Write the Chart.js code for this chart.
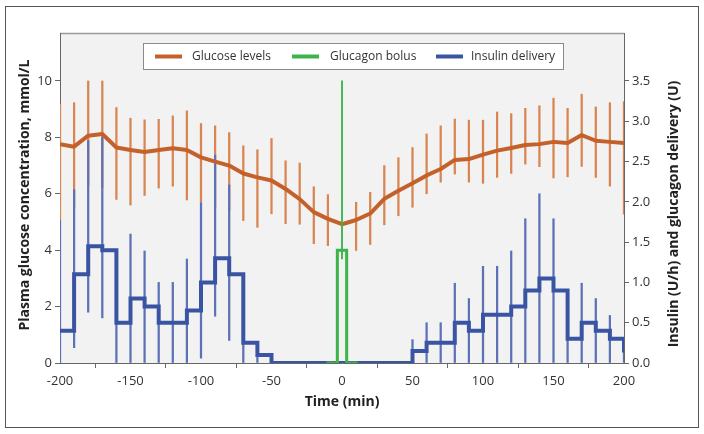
<!DOCTYPE html>
<html>
<head>
<meta charset="utf-8">
<script src="https://cdn.jsdelivr.net/npm/chart.js@4/dist/chart.umd.min.js"></script>
<style>
html,body{margin:0;padding:0;background:#fff;}
#wrap{width:704px;height:434px;position:relative;}
</style>
</head>
<body>
<div id="wrap"><canvas id="c" width="704" height="434"></canvas></div>
<script>
// ---- data ----
const times = [-200,-190,-180,-170,-160,-150,-140,-130,-120,-110,-100,-90,-80,-70,-60,-50,-40,-30,-20,-10,0,10,20,30,40,50,60,70,80,90,100,110,120,130,140,150,160,170,180,190,200];

// Plasma glucose, mmol/L (mean, upper and lower whisker)
const glucoseMean = [7.76,7.67,8.06,8.12,7.64,7.55,7.48,7.55,7.61,7.55,7.29,7.14,7.00,6.72,6.58,6.47,6.17,5.81,5.35,5.11,4.92,5.07,5.30,5.82,6.11,6.37,6.65,6.88,7.20,7.23,7.39,7.53,7.62,7.73,7.76,7.84,7.80,8.08,7.88,7.84,7.80];
const glucoseHigh = [9.17,9.23,10.0,10.0,9.06,8.68,8.62,8.64,8.76,8.94,8.49,8.41,8.17,7.70,7.56,7.96,7.17,7.09,6.25,5.97,null,5.70,6.05,7.00,7.28,7.64,8.12,8.41,8.65,8.61,8.61,8.90,8.84,9.03,9.12,9.39,9.03,9.53,9.08,9.23,9.27];
const glucoseLow  = [5.07,5.52,6.29,6.23,5.80,5.60,5.94,6.20,6.27,5.78,5.70,5.52,5.40,5.05,4.81,5.29,4.94,4.92,4.23,4.16,null,3.99,4.20,4.90,5.22,5.52,6.00,6.41,6.70,6.41,6.37,6.58,6.72,7.05,6.96,6.56,6.60,6.97,6.58,6.27,5.28];

// Insulin delivery, U/h (level of each 10-min step, with whiskers)
const insulinRate = [0.40,1.10,1.45,1.40,0.50,0.80,0.70,0.50,0.50,0.65,1.00,1.30,1.10,0.25,0.10,0,0,0,0,0,0,0,0,0,0,0.15,0.25,0.25,0.50,0.40,0.60,0.60,0.70,0.90,1.05,0.90,0.30,0.50,0.40,0.30,0.13];
const insulinHigh = [1.77,2.15,2.76,2.80,0.90,1.60,1.39,1.00,1.00,1.29,1.99,2.58,2.21,0.60,0.25,null,null,null,null,null,null,null,null,null,null,0.29,0.50,0.50,0.99,0.80,1.20,1.20,1.39,1.79,2.10,1.79,0.60,0.99,0.80,0.59,0.30];
const insulinLow  = [0,0.19,0.63,0.56,0,0,0,0,0,0,0.06,0.58,0.28,0,0,null,null,null,null,null,null,null,null,null,null,0,0,0,0,0,0,0,0,0,0,0,0,0,0,0,0];

// Glucagon bolus, U
const glucagonTimes = [-11,-3.3,3.3,11];
const glucagonDose  = [0,1.4,0,0];
const glucagonErrTime = [0];
const glucagonErrLow  = [1.29];
const glucagonErrHigh = [3.5];

// tick settings
const xTickStep = 50;
const leftTickStep = 2;
const leftTickMax = 10;
const rightTickStep = 0.5;
const rightTickMax = 3.5;

// ---- colours ----
const C_GLU = '#c4612a', C_GLU_ERR = '#d98552';
const C_INS = '#3a54a4', C_INS_ERR = '#5d72b6';
const C_GCG = '#3cb44a';
const FONT = '"Open Sans", "DejaVu Sans", sans-serif';

function pts(xs, ys){ return xs.map((x,i)=>({x:x, y:ys[i]})); }
function ranges(xs, lo, hi){
  const out=[];
  xs.forEach((x,i)=>{ if(lo[i]!=null && hi[i]!=null) out.push({x:x, y:[lo[i],hi[i]]}); });
  return out;
}

const decor = {
  id:'decor',
  beforeDraw(chart){
    const ctx=chart.ctx, a=chart.chartArea;
    ctx.save();
    ctx.fillStyle='#ffffff'; ctx.fillRect(0,0,chart.width,chart.height);
    ctx.strokeStyle='#555'; ctx.lineWidth=1;
    ctx.strokeRect(5.5,6.5,693,421);
    ctx.fillStyle='#f2f2f2'; ctx.fillRect(a.left,a.top,a.right-a.left,a.bottom-a.top);
    ctx.strokeStyle='#9a9a9a'; ctx.lineWidth=1.5;
    ctx.beginPath(); ctx.moveTo(a.left,a.top+0.5); ctx.lineTo(a.right,a.top+0.5); ctx.stroke();
    ctx.restore();
  },
  afterDraw(chart){
    const ctx=chart.ctx;
    ctx.save();
    // legend box
    ctx.fillStyle='#fff'; ctx.fillRect(143,43,420,26);
    ctx.strokeStyle='#8a8a8a'; ctx.lineWidth=1; ctx.strokeRect(143.5,43.5,420,26);
    const items=[[0,155,192],[4,292,330],[2,436,471]];
    ctx.font='12px '+FONT; ctx.textBaseline='middle'; ctx.textAlign='left';
    items.forEach(([di,lx,tx])=>{
      const ds=chart.data.datasets[di];
      ctx.strokeStyle=ds.borderColor; ctx.lineWidth=4;
      ctx.beginPath(); ctx.moveTo(lx,56.5); ctx.lineTo(lx+27,56.5); ctx.stroke();
      ctx.fillStyle='#333'; ctx.fillText(ds.label,tx,56.5);
    });
    // axis titles
    ctx.fillStyle='#222'; ctx.font='bold 14px '+FONT; ctx.textAlign='center'; ctx.textBaseline='middle';
    ctx.fillText('Time (min)',342,402);
    ctx.save(); ctx.translate(25,195); ctx.rotate(-Math.PI/2);
    ctx.fillText('Plasma glucose concentration, mmol/L',0,0); ctx.restore();
    ctx.save(); ctx.translate(674,214); ctx.rotate(-Math.PI/2);
    ctx.fillText('Insulin (U/h) and glucagon delivery (U)',0,0); ctx.restore();
    ctx.restore();
  }
};

const tickFont = {family: FONT, size: 13};

new Chart(document.getElementById('c'), {
  type:'line',
  data:{
    datasets:[
      {type:'line', label:'Glucose levels', data:pts(times,glucoseMean), yAxisID:'y',
       borderColor:C_GLU, borderWidth:4, pointRadius:0, tension:0, borderJoinStyle:'round', order:3},
      {type:'bar', label:'Glucose range', data:ranges(times,glucoseLow,glucoseHigh), yAxisID:'y',
       backgroundColor:C_GLU_ERR, borderWidth:0, barThickness:1.6, grouped:false, order:6},
      {type:'line', label:'Insulin delivery', data:pts(times,insulinRate), yAxisID:'y1',
       borderColor:C_INS, borderWidth:4, pointRadius:0, stepped:'before', order:2},
      {type:'bar', label:'Insulin range', data:ranges(times,insulinLow,insulinHigh), yAxisID:'y1',
       backgroundColor:C_INS_ERR, borderWidth:0, barThickness:1.6, grouped:false, order:5},
      {type:'line', label:'Glucagon bolus', data:pts(glucagonTimes,glucagonDose), yAxisID:'y1',
       borderColor:C_GCG, borderWidth:3, pointRadius:0, stepped:'before', order:0},
      {type:'bar', label:'Glucagon range', data:ranges(glucagonErrTime,glucagonErrLow,glucagonErrHigh), yAxisID:'y1',
       backgroundColor:C_GCG, borderWidth:0, barThickness:1.2, grouped:false, order:1}
    ]
  },
  options:{
    responsive:false, animation:false, devicePixelRatio:1,
    layout:{padding:{left:5,right:5,top:33,bottom:5}},
    plugins:{legend:{display:false}, tooltip:{enabled:false}},
    scales:{
      x:{type:'linear', min:-200, max:200, offset:false,
         ticks:{stepSize:xTickStep, font:tickFont, color:'#333', padding:5, maxRotation:0},
         grid:{drawOnChartArea:false, tickLength:5, color:'#666'},
         border:{color:'#666', width:1},
         afterFit(s){ s.height=66; }},
      y:{type:'linear', position:'left', min:0, max:11.7,
         ticks:{stepSize:leftTickStep, includeBounds:false, font:tickFont, color:'#333', padding:3},
         grid:{drawOnChartArea:false, tickLength:5, color:'#666'},
         border:{color:'#666', width:1},
         afterBuildTicks(s){ s.ticks = s.ticks.filter(t=>t.value<=leftTickMax+1e-9); },
         afterFit(s){ s.width=55; }},
      y1:{type:'linear', position:'right', min:0, max:4.095,
         ticks:{stepSize:rightTickStep, includeBounds:false, font:tickFont, color:'#333', padding:3,
                callback:v=>v.toFixed(1)},
         grid:{drawOnChartArea:false, tickLength:5, color:'#666'},
         border:{color:'#666', width:1},
         afterBuildTicks(s){ s.ticks = s.ticks.filter(t=>t.value<=rightTickMax+1e-9); },
         afterFit(s){ s.width=75; }}
    }
  },
  plugins:[decor]
});
</script>
</body>
</html>
